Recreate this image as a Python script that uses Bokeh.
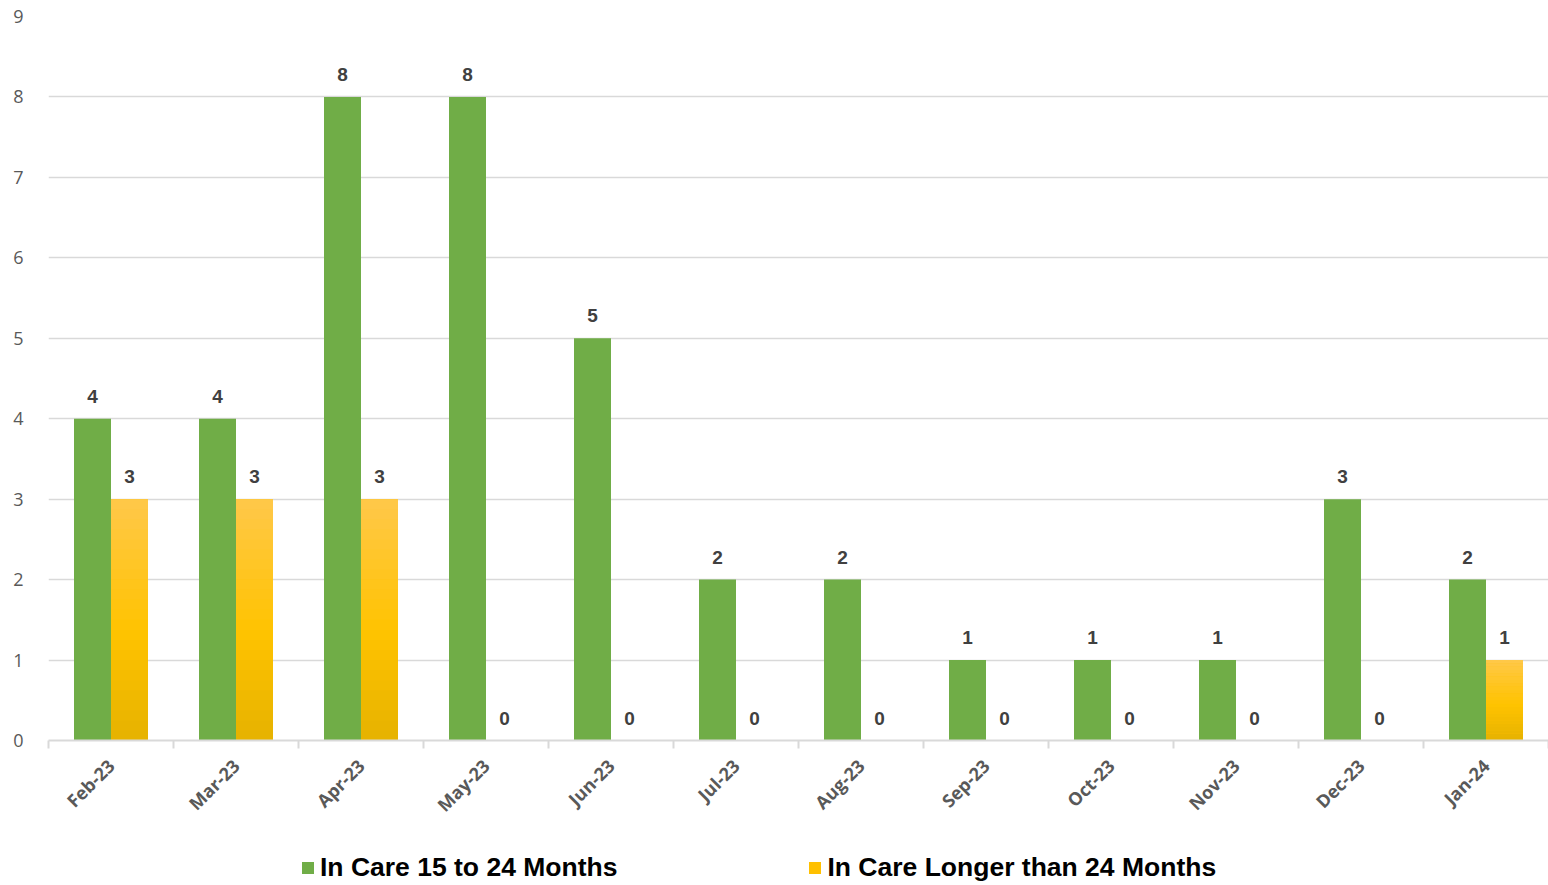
import numpy as np
from bokeh.plotting import figure
from bokeh.layouts import column
from bokeh.models import (ColumnDataSource, Range1d, FixedTicker, Legend, LegendItem, LabelSet)
from bokeh.embed import file_html
from bokeh.resources import INLINE
from bokeh.core.properties import value

months = ["Feb-23", "Mar-23", "Apr-23", "May-23", "Jun-23", "Jul-23",
          "Aug-23", "Sep-23", "Oct-23", "Nov-23", "Dec-23", "Jan-24"]
care_15_24 = [4, 4, 8, 8, 5, 2, 2, 1, 1, 1, 3, 2]
care_over_24 = [3, 3, 3, 0, 0, 0, 0, 0, 0, 0, 0, 1]
series_names = ["In Care 15 to 24 Months", "In Care Longer than 24 Months"]
y_ticks = list(range(0, 10))

GREEN = "#70AD47"
YELLOW = "#FFC000"


def lerp(c1, c2, t):
    a = [int(c1[i:i + 2], 16) for i in (1, 3, 5)]
    b = [int(c2[i:i + 2], 16) for i in (1, 3, 5)]
    return "#%02x%02x%02x" % tuple(int(round(a[k] + (b[k] - a[k]) * t)) for k in range(3))


idx = np.arange(len(months))
centers = idx + 0.5
bw = 0.296
off = 0.148

src1 = ColumnDataSource(dict(x=centers - off, top=care_15_24, lab=[str(v) for v in care_15_24]))
src2 = ColumnDataSource(dict(x=centers + off, top=care_over_24, lab=[str(v) for v in care_over_24]))

W = 1548
p = figure(width=W, height=830, output_backend="svg", toolbar_location=None,
           x_range=Range1d(0, len(months)), y_range=Range1d(0, 9),
           min_border_left=48, min_border_right=0, min_border_top=16, min_border_bottom=90)
p.outline_line_color = None
p.background_fill_color = "white"
p.border_fill_color = "white"

r1 = p.vbar(x="x", top="top", width=bw, bottom=0, source=src1, fill_color=GREEN, line_color=None)
r2 = p.vbar(x="x", top="top", width=bw, bottom=0, source=src2, fill_color=YELLOW, line_color=None)

# vertical gradient on yellow bars (bands computed from the data values)
n_bands = 24
top_c, mid_c, bot_c = "#FFC84A", "#FFC300", "#E6B200"
tops = np.array(care_over_24, dtype=float)
for k in range(n_bands):
    f0 = k / n_bands
    f1 = (k + 1) / n_bands
    t = (f0 + f1) / 2
    if t < 0.45:
        col = lerp(bot_c, mid_c, t / 0.45)
    else:
        col = lerp(mid_c, top_c, (t - 0.45) / 0.55)
    p.vbar(x=centers + off, bottom=tops * f0, top=tops * f1 + (0.002 if k < n_bands - 1 else 0) * tops,
           width=bw, fill_color=col, line_color=None)

lab_font = value("Liberation Sans")
for s in (src1, src2):
    ls = LabelSet(x="x", y="top", text="lab", source=s, text_align="center", text_baseline="bottom",
                  y_offset=16, text_font=lab_font, text_font_style="bold", text_font_size="19px",
                  text_color="#404040")
    p.add_layout(ls)

# axes
p.yaxis.ticker = FixedTicker(ticks=y_ticks)
p.yaxis.axis_line_color = None
p.yaxis.major_tick_line_color = None
p.yaxis.minor_tick_line_color = None
p.yaxis.major_label_standoff = 19
p.yaxis.major_label_text_font = "Open Sans"
p.yaxis.major_label_text_font_size = "18px"
p.yaxis.major_label_text_color = "#595959"

p.xaxis.ticker = FixedTicker(ticks=list(centers), minor_ticks=list(range(0, len(months) + 1)))
p.xaxis.major_label_overrides = {float(c): m for c, m in zip(centers, months)}
p.xaxis.major_label_orientation = np.pi / 4
p.xaxis.major_tick_line_color = None
p.xaxis.minor_tick_line_color = "#D9D9D9"
p.xaxis.minor_tick_line_width = 2
p.xaxis.minor_tick_out = 8
p.xaxis.minor_tick_in = 0
p.xaxis.axis_line_color = "#D9D9D9"
p.xaxis.axis_line_width = 2
p.xaxis.major_label_standoff = 14
p.xaxis.major_label_text_font = "Open Sans"
p.xaxis.major_label_text_font_style = "bold"
p.xaxis.major_label_text_font_size = "18px"
p.xaxis.major_label_text_color = "#595959"

p.xgrid.grid_line_color = None
p.ygrid.grid_line_color = "#D9D9D9"
p.ygrid.grid_line_width = 1.5
p.ygrid.ticker = FixedTicker(ticks=y_ticks)

# legend strip below the chart (its own ranges keep the proxy bars out of view)
lg = figure(width=W, height=55, output_backend="svg", toolbar_location=None,
            x_range=Range1d(-2, -1), y_range=Range1d(0, 1), x_axis_type=None, y_axis_type=None,
            min_border_left=0, min_border_right=0, min_border_top=0, min_border_bottom=0)
lg.outline_line_color = None
lg.xgrid.visible = False
lg.ygrid.visible = False
d1 = lg.vbar(x="x", top="top", width=bw, source=src1, fill_color=GREEN, line_color=None)
d2 = lg.vbar(x="x", top="top", width=bw, source=src2, fill_color=YELLOW, line_color=None)
legend = Legend(items=[LegendItem(label=series_names[0], renderers=[d1]),
                       LegendItem(label=series_names[1], renderers=[d2])],
                orientation="horizontal", location=(252, 2),
                label_text_font="Liberation Sans", label_text_font_style="bold",
                label_text_font_size="26.5px", label_text_color="#000000",
                glyph_width=15, glyph_height=15, spacing=190, label_standoff=5,
                padding=0, margin=0, border_line_color=None, background_fill_alpha=0)
lg.add_layout(legend)

layout = column(p, lg, spacing=0)
open("out.html", "w").write(file_html(layout, INLINE))
